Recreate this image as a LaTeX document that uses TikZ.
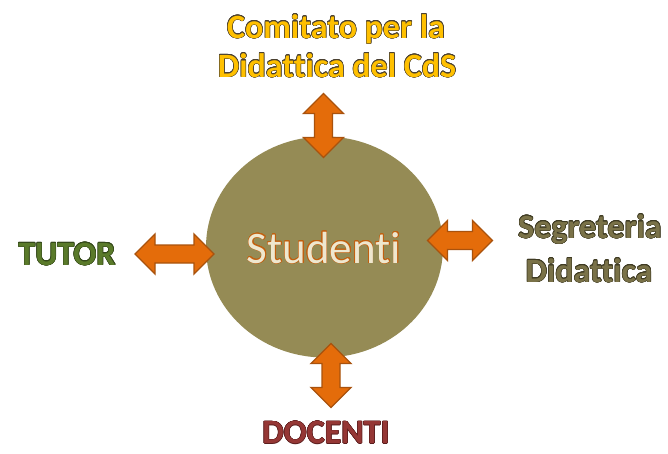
\documentclass[tikz,border=0pt]{standalone}
\usepackage{fontspec}
\setmainfont{Carlito}[Ligatures=NoCommon]
\usepackage{contour}
\contourlength{0.5pt}
\usetikzlibrary{shapes.geometric}
\definecolor{circ}{HTML}{958B55}
\definecolor{arrfill}{HTML}{E46C0A}
\definecolor{arrline}{HTML}{A9520D}
\definecolor{comfill}{HTML}{FFC000}
\definecolor{comline}{HTML}{4A4030}
\definecolor{tutfill}{HTML}{5A7A2A}
\definecolor{tutline}{HTML}{34481A}
\definecolor{segfill}{HTML}{7A7248}
\definecolor{segline}{HTML}{3E3A22}
\definecolor{docfill}{HTML}{953735}
\definecolor{docline}{HTML}{5A1E1E}
\definecolor{stufill}{HTML}{EEE7CF}
\definecolor{stuline}{HTML}{C2600F}
\tikzset{
  arrsty/.style={fill=arrfill, draw=arrline, line width=1.3pt, line join=miter},
  lbl/.style={inner sep=0pt, anchor=base, font=\bfseries\fontsize{34}{40}\selectfont}
}
% name, center, total length, rotation
\newcommand{\dblarr}[4]{%
  \pgfmathsetmacro{\hh}{#3/2}%
  \pgfmathsetmacro{\hn}{#3/2-20}%
  \begin{scope}[shift={#2}, rotate=#4]
    \coordinate (#1) at (0,0);
    \draw[arrsty] (-\hh,0) -- (-\hn,-20) -- (-\hn,-9) -- (\hn,-9) -- (\hn,-20) -- (\hh,0)
      -- (\hn,20) -- (\hn,9) -- (-\hn,9) -- (-\hn,20) -- cycle;
  \end{scope}}
\begin{document}
\begin{tikzpicture}[x=1pt,y=-1pt]
\useasboundingbox (0,0) rectangle (668,453);
\node[ellipse, fill=circ, minimum width=237pt, minimum height=221pt, inner sep=0pt] (stud) at (324.5,247) {};
\node[inner sep=0pt, anchor=base, font=\fontsize{45}{50}\selectfont] (stxt) at (324,263) {\textcolor{stufill}{\contour{stuline}{Studenti}}};
\dblarr{aleft}{(174.5,254)}{79}{0}
\dblarr{aright}{(460,240.5)}{65}{0}
\dblarr{atop}{(323.5,125.5)}{64}{90}
\dblarr{abot}{(331,375.5)}{64}{90}
\node[lbl] (com1) at (336,38) {\textcolor{comfill}{\contour{comline}{Comitato per la}}};
\node[lbl] (com2) at (337,77) {\textcolor{comfill}{\contour{comline}{Didattica del CdS}}};
\node[lbl] (tut) at (67,265) {\textcolor{tutfill}{\contour{tutline}{TUTOR}}};
\node[lbl] (seg1) at (590,238) {\textcolor{segfill}{\contour{segline}{Segreteria}}};
\node[lbl] (seg2) at (589,282) {\textcolor{segfill}{\contour{segline}{Didattica}}};
\node[lbl] (doc) at (326,443.5) {\textcolor{docfill}{\contour{docline}{DOCENTI}}};
\end{tikzpicture}
\end{document}
